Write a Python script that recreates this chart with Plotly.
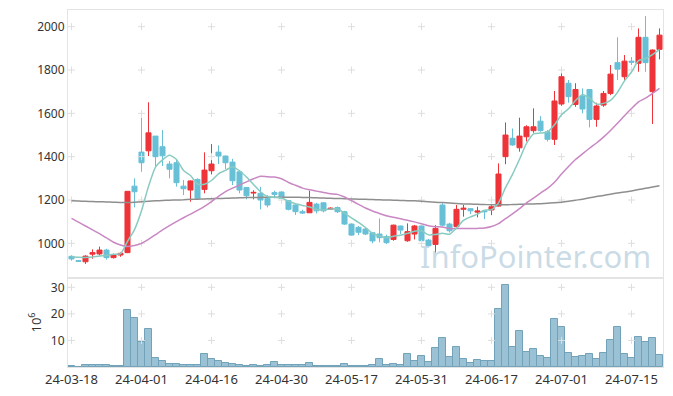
import plotly.graph_objects as go
from plotly.subplots import make_subplots

dates = [
    "24-03-18", "24-03-19", "24-03-20", "24-03-21", "24-03-22", "24-03-25", "24-03-26", "24-03-27", "24-03-28", "24-03-29",
    "24-04-01", "24-04-02", "24-04-03", "24-04-04", "24-04-05", "24-04-08", "24-04-09", "24-04-11", "24-04-12", "24-04-15",
    "24-04-16", "24-04-17", "24-04-18", "24-04-19", "24-04-22", "24-04-23", "24-04-24", "24-04-25", "24-04-26", "24-04-29",
    "24-04-30", "24-05-02", "24-05-03", "24-05-07", "24-05-08", "24-05-09", "24-05-10", "24-05-13", "24-05-14", "24-05-16",
    "24-05-17", "24-05-20", "24-05-21", "24-05-22", "24-05-23", "24-05-24", "24-05-27", "24-05-28", "24-05-29", "24-05-30",
    "24-05-31", "24-06-03", "24-06-04", "24-06-05", "24-06-07", "24-06-10", "24-06-11", "24-06-12", "24-06-13", "24-06-14",
    "24-06-17", "24-06-18", "24-06-19", "24-06-20", "24-06-21", "24-06-24", "24-06-25", "24-06-26", "24-06-27", "24-06-28",
    "24-07-01", "24-07-02", "24-07-03", "24-07-04", "24-07-05", "24-07-08", "24-07-09", "24-07-10", "24-07-11", "24-07-12",
    "24-07-15", "24-07-16", "24-07-17", "24-07-18", "24-07-19",
]

open_ = [
    940, 920, 915, 950, 951, 969, 934, 946, 957, 1264,
    1421, 1427, 1495, 1446, 1366, 1372, 1264, 1246, 1295, 1249,
    1335, 1421, 1403, 1375, 1330, 1258, 1232, 1231, 1208, 1234,
    1237, 1197, 1177, 1146, 1141, 1181, 1187, 1157, 1165, 1146,
    1089, 1074, 1066, 1049, 1043, 1031, 1018, 1080, 1012, 1043,
    1080, 1015, 995, 1177, 1089, 1077, 1157, 1160, 1144, 1150,
    1154, 1172, 1400, 1485, 1441, 1492, 1520, 1564, 1515, 1480,
    1643, 1739, 1641, 1680, 1710, 1572, 1638, 1692, 1834, 1769,
    1841, 1831, 1951, 1700, 1895,
]
high = [
    945, 922, 945, 972, 985, 975, 952, 958, 1241, 1300,
    1580, 1651, 1495, 1523, 1380, 1386, 1292, 1290, 1300, 1420,
    1458, 1452, 1405, 1390, 1335, 1258, 1245, 1261, 1223, 1243,
    1240, 1200, 1180, 1155, 1243, 1187, 1190, 1166, 1170, 1150,
    1092, 1080, 1075, 1050, 1115, 1040, 1086, 1082, 1092, 1085,
    1082, 1020, 1084, 1185, 1095, 1177, 1177, 1160, 1169, 1152,
    1177, 1369, 1558, 1530, 1580, 1545, 1623, 1587, 1523, 1703,
    1812, 1754, 1739, 1715, 1712, 1649, 1703, 1823, 1951, 1869,
    1860, 1992, 2049, 1895, 1992,
]
low = [
    920, 915, 905, 929, 945, 925, 930, 938, 955, 1166,
    1330, 1403, 1357, 1357, 1300, 1262, 1223, 1192, 1200, 1231,
    1318, 1366, 1342, 1269, 1231, 1203, 1203, 1157, 1166, 1208,
    1185, 1152, 1131, 1136, 1141, 1138, 1143, 1155, 1140, 1085,
    1035, 1038, 1038, 1000, 1005, 997, 1012, 1043, 1007, 1018,
    989, 985, 957, 1078, 1050, 1077, 1123, 1135, 1120, 1112,
    1130, 1170, 1365, 1450, 1423, 1470, 1510, 1515, 1470, 1454,
    1635, 1649, 1630, 1600, 1535, 1538, 1630, 1684, 1754, 1754,
    1823, 1792, 1792, 1551, 1849,
]
close = [
    928, 917, 941, 957, 969, 934, 948, 954, 1240, 1238,
    1372, 1510, 1400, 1404, 1342, 1280, 1252, 1288, 1208, 1338,
    1366, 1403, 1372, 1289, 1246, 1220, 1235, 1200, 1177, 1226,
    1208, 1157, 1146, 1140, 1189, 1150, 1150, 1162, 1146, 1089,
    1038, 1051, 1043, 1011, 1026, 1003, 1084, 1061, 1054, 1080,
    1012, 989, 1069, 1084, 1058, 1157, 1162, 1150, 1149, 1146,
    1169, 1320, 1500, 1454, 1495, 1538, 1538, 1520, 1480, 1657,
    1769, 1677, 1710, 1620, 1572, 1634, 1692, 1781, 1804, 1841,
    1836, 1951, 1834, 1892, 1961,
]

ma5 = [
    938, 936, 935, 937, 942, 944, 950, 952, 1009, 1063,
    1150, 1263, 1352, 1385, 1406, 1387, 1336, 1313, 1274, 1273,
    1290, 1321, 1337, 1354, 1335, 1306, 1272, 1238, 1216, 1212,
    1209, 1194, 1183, 1175, 1168, 1156, 1155, 1158, 1159, 1139,
    1117, 1097, 1073, 1046, 1034, 1027, 1033, 1037, 1046, 1056,
    1058, 1039, 1041, 1047, 1042, 1071, 1106, 1122, 1135, 1153,
    1155, 1187, 1257, 1318, 1388, 1461, 1505, 1509, 1514, 1547,
    1593, 1621, 1659, 1687, 1670, 1643, 1646, 1660, 1697, 1750,
    1791, 1843, 1853, 1871, 1895,
]
ma20 = [
    1115, 1098, 1080, 1062, 1045, 1025, 1005, 992, 985, 990,
    1000, 1018, 1040, 1062, 1082, 1100, 1118, 1135, 1152, 1171,
    1193, 1217, 1239, 1255, 1269, 1284, 1298, 1310, 1307, 1306,
    1298, 1281, 1268, 1255, 1247, 1241, 1235, 1229, 1226, 1214,
    1197, 1180, 1163, 1149, 1138, 1127, 1120, 1113, 1107, 1099,
    1090, 1081, 1077, 1075, 1068, 1068, 1069, 1068, 1069, 1071,
    1078, 1091, 1114, 1136, 1160, 1187, 1209, 1232, 1254, 1282,
    1320, 1355, 1387, 1413, 1439, 1463, 1490, 1521, 1554, 1589,
    1622, 1653, 1670, 1692, 1715,
]
ma120 = [
    1196, 1195, 1194, 1193, 1192, 1191, 1190, 1189, 1189, 1190,
    1192, 1194, 1196, 1198, 1199, 1200, 1201, 1203, 1204, 1205,
    1206, 1207, 1208, 1209, 1210, 1211, 1212, 1212, 1213, 1213,
    1213, 1213, 1213, 1212, 1211, 1210, 1209, 1208, 1207, 1206,
    1205, 1204, 1203, 1202, 1201, 1200, 1199, 1198, 1197, 1196,
    1194, 1192, 1190, 1188, 1186, 1184, 1182, 1181, 1180, 1179,
    1178, 1178, 1178, 1179, 1180, 1181, 1182, 1183, 1185, 1187,
    1190, 1194, 1199, 1204, 1210, 1216, 1221, 1227, 1232, 1237,
    1242, 1248, 1254, 1260, 1266,
]

volume = [
    0.4, 0.0, 0.6, 0.6, 0.6, 0.6, 0.25, 0.25, 21.5, 18.5,
    9.5, 14.4, 3.4, 2.2, 1.1, 1.1, 0.6, 0.6, 0.6, 4.9,
    3.0, 2.2, 1.5, 1.1, 0.6, 0.25, 0.6, 0.25, 0.6, 1.8,
    0.6, 0.6, 0.6, 0.6, 1.4, 0.25, 0.25, 0.25, 0.25, 1.0,
    0.25, 0.25, 0.25, 0.6, 2.9, 0.6, 1.0, 0.6, 4.9, 2.2,
    4.1, 1.8, 7.2, 11.0, 3.7, 7.6, 2.9, 1.4, 2.6, 2.2,
    2.2, 21.8, 31.0, 7.6, 13.7, 5.6, 6.8, 4.1, 3.3, 17.9,
    14.9, 5.3, 3.7, 4.1, 4.9, 2.9, 5.3, 10.3, 14.9, 4.9,
    3.3, 11.4, 9.5, 11.0, 4.5,
]

x_tick_labels = ["24-03-18", "24-04-01", "24-04-16", "24-04-30", "24-05-17",
                 "24-05-31", "24-06-17", "24-07-01", "24-07-15"]
price_ticks = [1000, 1200, 1400, 1600, 1800, 2000]
volume_ticks = [10, 20, 30]

RED = "#ee3439"
BLUE = "#68c0d7"
FONT = dict(family="Noto Sans", size=12, color="#333333")

fig = make_subplots(rows=2, cols=1, shared_xaxes=True, vertical_spacing=0,
                    row_heights=[0.75, 0.25])

# grid "+" marks
cross = dict(symbol="cross-thin", size=5, line=dict(color="#dedede", width=1))
fig.add_trace(go.Scatter(
    x=[d for d in x_tick_labels for _ in price_ticks],
    y=[p for _ in x_tick_labels for p in price_ticks],
    mode="markers", marker=cross, hoverinfo="skip", showlegend=False), row=1, col=1)
fig.add_trace(go.Scatter(
    x=[d for d in x_tick_labels for _ in volume_ticks],
    y=[v for _ in x_tick_labels for v in volume_ticks],
    mode="markers", marker=cross, hoverinfo="skip", showlegend=False), row=2, col=1)

fig.add_annotation(text="InfoPointer.com", xref="paper", yref="paper",
                   x=0.785, y=0.31, xanchor="center", yanchor="middle", showarrow=False,
                   font=dict(family="Noto Sans", size=31, color="rgba(185,208,222,0.75)"))

fig.add_trace(go.Candlestick(
    x=dates, open=open_, high=high, low=low, close=close,
    increasing=dict(line=dict(color=RED, width=1), fillcolor=RED),
    decreasing=dict(line=dict(color=BLUE, width=1), fillcolor=BLUE),
    whiskerwidth=0, showlegend=False), row=1, col=1)

fig.add_trace(go.Scatter(x=dates, y=ma120, mode="lines",
                         line=dict(color="#8e8e8e", width=1.5, shape="spline", smoothing=0.6),
                         showlegend=False), row=1, col=1)
fig.add_trace(go.Scatter(x=dates, y=ma20, mode="lines",
                         line=dict(color="#c987c3", width=1.5, shape="spline", smoothing=0.6),
                         showlegend=False), row=1, col=1)
fig.add_trace(go.Scatter(x=dates, y=ma5, mode="lines",
                         line=dict(color="#88cbc0", width=1.5, shape="spline", smoothing=0.6),
                         showlegend=False), row=1, col=1)

fig.add_trace(go.Bar(x=dates, y=volume,
                     marker=dict(color="rgba(138,182,204,0.85)", line=dict(color="#72a2ba", width=1)),
                     showlegend=False), row=2, col=1)

axis_common = dict(showgrid=False, zeroline=False, showline=True, mirror=True,
                   linecolor="#e4e4e4", linewidth=1, ticks="", tickfont=FONT, automargin=False)

fig.update_xaxes(type="category", categoryorder="array", categoryarray=dates,
                 range=[-0.5, len(dates) - 0.5], **axis_common)
fig.update_xaxes(showticklabels=False, rangeslider=dict(visible=False), row=1, col=1)
fig.update_xaxes(tickmode="array", tickvals=x_tick_labels, ticktext=x_tick_labels,
                 showticklabels=True, tickfont=dict(family="Noto Sans", size=13, color="#333333"),
                 row=2, col=1)

fig.update_yaxes(**axis_common)
fig.update_yaxes(range=[840, 2077], tickmode="array", tickvals=price_ticks,
                 domain=[0.2493, 1.0], row=1, col=1)
fig.update_yaxes(range=[0, 33.5], tickmode="array", tickvals=volume_ticks,
                 domain=[0.0, 0.2493],
                 title=dict(text="10<sup>6</sup>", font=dict(family="Noto Sans", size=13, color="#333333"),
                            standoff=6),
                 row=2, col=1)

# page body has an 8px margin: size the figure so it fits the 673x396 window
fig.update_layout(width=657, height=380, margin=dict(l=60, r=2, t=2, b=21),
                  plot_bgcolor="white", paper_bgcolor="white", bargap=0,
                  boxgap=0.28, boxgroupgap=0,
                  showlegend=False, font=FONT)

fig.write_html("out.html")
